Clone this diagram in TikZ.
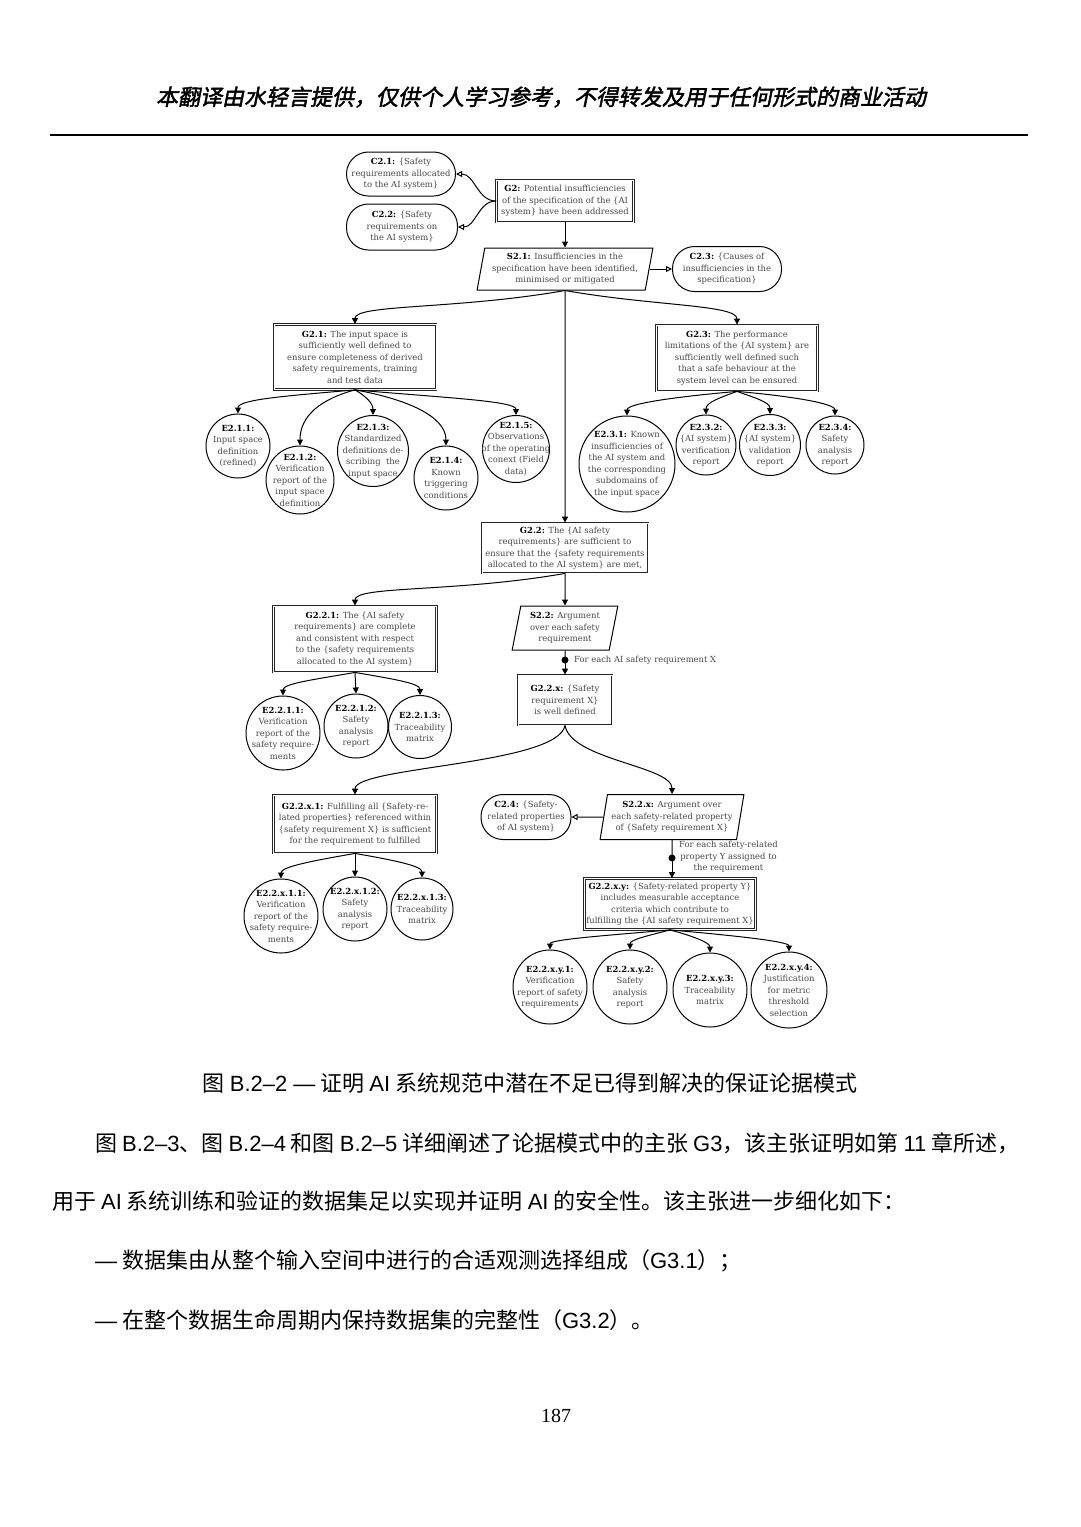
\documentclass[tikz,border=0pt]{standalone}
\usepackage{fontspec}
\usetikzlibrary{arrows.meta,shapes.geometric}
\setmainfont{Liberation Serif}
\newfontfamily\dgfont{DejaVu Serif}
\newfontfamily\cjk{Noto Sans CJK SC}
\newfontfamily\cjkhead[FakeSlant=0.2,FakeBold=2]{Noto Sans CJK SC}
\newfontfamily\lat{Liberation Sans}
\newcommand\la[1]{{\lat #1}}
\newcommand\dgtext{\dgfont\fontsize{8.4}{11.5}\selectfont}
\newcommand\lbl[1]{\textcolor{black}{\bfseries #1}}
\definecolor{txtgray}{gray}{0.28}
\tikzset{
    goalbox/.style={draw=black!85, double, double distance=0.9pt, line width=0.8pt, rectangle, align=center, inner sep=1.5pt, text=txtgray, font=\dgtext},
    ctxbox/.style={draw, line width=1pt, rectangle, rounded corners=22pt, align=center, inner sep=0pt, text=txtgray, font=\dgtext},
    stratbox/.style={draw, line width=1pt, trapezium, trapezium left angle=78, trapezium right angle=102, trapezium stretches=true, align=center, inner sep=1pt, text=txtgray, font=\dgtext},
    evcircle/.style={draw, circle, line width=1pt, inner sep=0pt},
    evtext/.style={align=center, inner sep=0pt, text=txtgray, font=\dgtext},
    note/.style={align=center, inner sep=0pt, text=txtgray, font=\dgtext},
    supby/.style={line width=1pt, -{Triangle[length=6pt,width=6pt]}},
    incx/.style={line width=1pt, -{Triangle[open,length=6pt,width=6pt]}},
    bodytext/.style={anchor=west, inner sep=0pt, font={\cjk\fontsize{22}{26}\selectfont}}
}
\begin{document}
\begin{tikzpicture}[x=1pt,y=1pt]
    \fill[white](0,0)rectangle(1080,-1527);
    \useasboundingbox(0,0)rectangle(1080,-1527);
    \node[inner sep=0pt,font={\cjkhead\fontsize{22}{26}\selectfont}](head)at(541,-97){本翻译由水轻言提供，仅供个人学习参考，不得转发及用于任何形式的商业活动};
    \draw[line width=1.5pt](50,-135)--(1028,-135);

    \node[ctxbox,minimum width=109pt,minimum height=44pt](C21)at(401,-174){\lbl{C2.1:} \{Safety\\requirements allocated\\to the AI system\}};
    \node[ctxbox,minimum width=111pt,minimum height=46pt](C22)at(402,-227){\lbl{C2.2:} \{Safety\\requirements on\\the AI system\}};
    \node[goalbox,minimum width=137pt,minimum height=42pt](G2)at(565,-201){\lbl{G2:} Potential insufficiencies\\of the specification of the \{AI\\system\} have been addressed};
    \node[stratbox,minimum width=176pt,minimum height=42pt](S21)at(565,-269){\lbl{S2.1:} Insufficiencies in the\\specification have been identified,\\minimised or mitigated};
    \node[ctxbox,minimum width=109pt,minimum height=45pt](C23)at(727,-269){\lbl{C2.3:} \{Causes of\\insufficiencies in the\\specification\}};
    \draw[incx](G2.west)to[out=180,in=0](C21.east);
    \draw[incx](G2.west)to[out=180,in=0](C22.east);
    \draw[supby](G2.south)--(G2.south|-S21.north);
    \draw[incx](S21)--(C23);

    \node[goalbox,minimum width=162pt,minimum height=65pt](G21)at(355,-357){\lbl{G2.1:} The input space is\\sufficiently well defined to\\ensure completeness of derived\\safety requirements, training\\and test data};
    \node[goalbox,minimum width=161pt,minimum height=66pt](G23)at(737,-358){\lbl{G2.3:} The performance\\limitations of the \{AI system\} are\\sufficiently well defined such\\that a safe behaviour at the\\system level can be ensured};
    \draw[supby](S21.south)to[out=190,in=90,out distance=110pt,in distance=20pt](G21.north);
    \draw[supby](S21.south)to[out=-10,in=90,out distance=90pt,in distance=20pt](G23.north);

    \node[evcircle,minimum size=64pt,label={[evtext]center:{\lbl{E2.1.1:}\\Input space\\definition\\(refined)}}](E211)at(238,-446){};
    \node[evcircle,minimum size=68pt,label={[evtext]center:{\lbl{E2.1.2:}\\Verification\\report of the\\input space\\definition}}](E212)at(300,-480){};
    \node[evcircle,minimum size=71pt,label={[evtext]center:{\lbl{E2.1.3:}\\Standardized\\definitions de-\\scribing\ \ the\\input space}}](E213)at(373,-451){};
    \node[evcircle,minimum size=64pt,label={[evtext]center:{\lbl{E2.1.4:}\\Known\\triggering\\conditions}}](E214)at(446,-478){};
    \node[evcircle,minimum size=67pt,label={[evtext]center:{\lbl{E2.1.5:}\\Observations\\of the operating\\conext (Field\\data)}}](E215)at(516,-449){};
    \draw[supby](G21.south)to[out=185,in=90,out distance=70pt,in distance=14pt](E211.north);
    \draw[supby](G21.south)to[out=195,in=90,out distance=35pt,in distance=30pt](E212.north);
    \draw[supby](G21.south)to[out=-30,in=90,out distance=12pt,in distance=12pt](E213.north);
    \draw[supby](G21.south)to[out=-10,in=90,out distance=50pt,in distance=30pt](E214.north);
    \draw[supby](G21.south)to[out=-5,in=90,out distance=90pt,in distance=14pt](E215.north);

    \node[evcircle,minimum size=96pt,label={[evtext]center:{\lbl{E2.3.1:} Known\\insufficiencies of\\the AI system and\\the corresponding\\subdomains of\\the input space}}](E231)at(627,-464){};
    \node[evcircle,minimum size=60pt,label={[evtext]center:{\lbl{E2.3.2:}\\\{AI system\}\\verification\\report}}](E232)at(706,-445){};
    \node[evcircle,minimum size=61pt,label={[evtext]center:{\lbl{E2.3.3:}\\\{AI system\}\\validation\\report}}](E233)at(770,-445){};
    \node[evcircle,minimum size=58pt,label={[evtext]center:{\lbl{E2.3.4:}\\Safety\\analysis\\report}}](E234)at(835,-445){};
    \draw[supby](G23.south)to[out=185,in=90,out distance=60pt,in distance=12pt](E231.north);
    \draw[supby](G23.south)to[out=200,in=90,out distance=18pt,in distance=12pt](E232.north);
    \draw[supby](G23.south)to[out=-20,in=90,out distance=18pt,in distance=12pt](E233.north);
    \draw[supby](G23.south)to[out=-5,in=90,out distance=55pt,in distance=12pt](E234.north);

    \node[goalbox,minimum width=166pt,minimum height=50pt](G22)at(565,-548){\lbl{G2.2:} The \{AI safety\\requirements\} are sufficient to\\ensure that the \{safety requirements\\allocated to the AI system\} are met,};
    \draw[supby](S21.south)--(G22.north);
    \node[goalbox,minimum width=163pt,minimum height=66pt](G221)at(355,-639){\lbl{G2.2.1:} The \{AI safety\\requirements\} are complete\\and consistent with respect\\to the \{safety requirements\\allocated to the AI system\}};
    \node[stratbox,minimum width=106pt,minimum height=44pt](S22)at(565,-628){\lbl{S2.2:} Argument\\over each safety\\requirement};
    \draw[supby](G22.south)to[out=190,in=90,out distance=110pt,in distance=20pt](G221.north);
    \draw[supby](G22.south)--(S22.north);
    \coordinate(fx)at(565,-660);
    \node[goalbox,minimum width=94pt,minimum height=50pt](G22x)at(565,-700){\lbl{G2.2.x:} \{Safety\\requirement X\}\\is well defined};
    \draw[line width=1pt](S22.south)--(fx);
    \draw[supby](fx)--(G22x.north);
    \fill(fx)circle(3.5pt);
    \node[note,anchor=west](nX)at(574,-660){For each AI safety requirement X};

    \node[evcircle,minimum size=74pt,label={[evtext]center:{\lbl{E2.2.1.1:}\\Verification\\report of the\\safety require-\\ments}}](E2211)at(283,-733){};
    \node[evcircle,minimum size=64pt,label={[evtext]center:{\lbl{E2.2.1.2:}\\Safety\\analysis\\report}}](E2212)at(356,-726){};
    \node[evcircle,minimum size=63pt,label={[evtext]center:{\lbl{E2.2.1.3:}\\Traceability\\matrix}}](E2213)at(420,-727){};
    \draw[supby](G221.south)to[out=190,in=90,out distance=40pt,in distance=12pt](E2211.north);
    \draw[supby](G221.south)--(E2212.north);
    \draw[supby](G221.south)to[out=-10,in=90,out distance=35pt,in distance=12pt](E2213.north);

    \node[goalbox,minimum width=163pt,minimum height=58pt](G22x1)at(355,-824){\lbl{G2.2.x.1:} Fulfilling all \{Safety-re-\\lated properties\} referenced within\\\{safety requirement X\} is sufficient\\for the requirement to fulfilled};
    \node[stratbox,minimum width=144pt,minimum height=45pt](S22x)at(672,-817){\lbl{S2.2.x:} Argument over\\each safety-related property\\of \{Safety requirement X\}};
    \node[ctxbox,minimum width=90pt,minimum height=45pt](C24)at(526,-817){\lbl{C2.4:} \{Safety-\\related properties\\of AI system\}};
    \draw[supby](G22x.south)to[out=-100,in=90,out distance=40pt,in distance=28pt](G22x1.north);
    \draw[supby](G22x.south)to[out=-80,in=90,out distance=35pt,in distance=28pt](S22x.north);
    \draw[incx](S22x)--(C24);

    \node[evcircle,minimum size=74pt,label={[evtext]center:{\lbl{E2.2.x.1.1:}\\Verification\\report of the\\safety require-\\ments}}](E22x11)at(281,-916){};
    \node[evcircle,minimum size=64pt,label={[evtext]center:{\lbl{E2.2.x.1.2:}\\Safety\\analysis\\report}}](E22x12)at(355,-909){};
    \node[evcircle,minimum size=62pt,label={[evtext]center:{\lbl{E2.2.x.1.3:}\\Traceability\\matrix}}](E22x13)at(422,-909){};
    \draw[supby](G22x1.south)to[out=190,in=90,out distance=40pt,in distance=12pt](E22x11.north);
    \draw[supby](G22x1.south)--(E22x12.north);
    \draw[supby](G22x1.south)to[out=-10,in=90,out distance=35pt,in distance=12pt](E22x13.north);

    \coordinate(fy)at(672,-858);
    \node[goalbox,minimum width=171pt,minimum height=51pt](G22xy)at(670,-904){\lbl{G2.2.x.y:} \{Safety-related property Y\}\\includes measurable acceptance\\criteria which contribute to\\fulfilling the \{AI safety requirement X\}};
    \draw[line width=1pt](S22x.south)--(fy);
    \draw[supby](fy)--(fy|-G22xy.north);
    \fill(fy)circle(3.5pt);
    \node[note,anchor=west](nY)at(679,-857){For each safety-related\\property Y assigned to\\the requirement};

    \node[evcircle,minimum size=74pt,label={[evtext]center:{\lbl{E2.2.x.y.1:}\\Verification\\report of safety\\requirements}}](E22xy1)at(550,-987){};
    \node[evcircle,minimum size=74pt,label={[evtext]center:{\lbl{E2.2.x.y.2:}\\Safety\\analysis\\report}}](E22xy2)at(630,-987){};
    \node[evcircle,minimum size=74pt,label={[evtext]center:{\lbl{E2.2.x.y.3:}\\Traceability\\matrix}}](E22xy3)at(710,-990){};
    \node[evcircle,minimum size=76pt,label={[evtext]center:{\lbl{E2.2.x.y.4:}\\Justification\\for metric\\threshold\\selection}}](E22xy4)at(789,-990){};
    \draw[supby](G22xy.south)to[out=185,in=90,out distance=65pt,in distance=10pt](E22xy1.north);
    \draw[supby](G22xy.south)to[out=195,in=90,out distance=22pt,in distance=10pt](E22xy2.north);
    \draw[supby](G22xy.south)to[out=-15,in=90,out distance=22pt,in distance=10pt](E22xy3.north);
    \draw[supby](G22xy.south)to[out=-5,in=90,out distance=65pt,in distance=10pt](E22xy4.north);

    \node[bodytext,anchor=center](cap)at(530,-1083){图 \la{B.2–2 —} 证明 \la{AI} 系统规范中潜在不足已得到解决的保证论据模式};
    \node[bodytext](p1)at(95,-1143){图 \la{B.2–3}、图 \la{B.2–4} 和图 \la{B.2–5} 详细阐述了论据模式中的主张 \la{G3}，该主张证明如第 \la{11} 章所述，};
    \node[bodytext](p2)at(52,-1201){用于 \la{AI} 系统训练和验证的数据集足以实现并证明 \la{AI} 的安全性。该主张进一步细化如下：};
    \node[bodytext](p3)at(95,-1261){\la{—} 数据集由从整个输入空间中进行的合适观测选择组成（\la{G3.1}）；};
    \node[bodytext](p4)at(95,-1320){\la{—} 在整个数据生命周期内保持数据集的完整性（\la{G3.2}）。};
    \node[inner sep=0pt,font=\fontsize{20}{24}\selectfont](pg)at(556,-1416){187};
\end{tikzpicture}
\end{document}
